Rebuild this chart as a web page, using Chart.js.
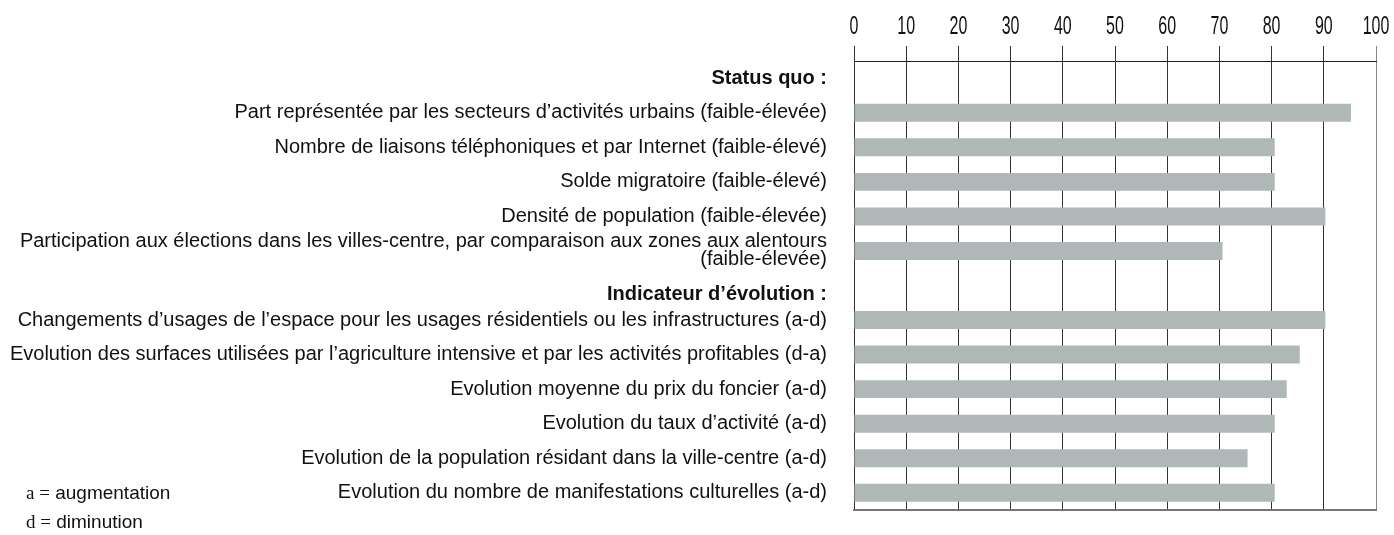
<!DOCTYPE html>
<html lang="fr">
<head>
<meta charset="utf-8">
<title>Indicateurs</title>
<script src="https://cdn.jsdelivr.net/npm/chart.js@4/dist/chart.umd.min.js"></script>
<style>
    html, body { margin: 0; padding: 0; background: #fff; }
    #wrap { position: relative; width: 1394px; height: 535px; }
    #notes { position: absolute; left: 26px; top: 478px; font: 19px "Liberation Sans", Arial, sans-serif; color: #111; line-height: 29px; }
    #notes span { font-family: "Liberation Serif", "Times New Roman", serif; }
</style>
</head>
<body>
<div id="wrap">
    <canvas id="chart" width="1394" height="535"></canvas>
    <div id="notes">
        <div><span>a =</span> augmentation</div>
        <div><span>d =</span> diminution</div>
    </div>
</div>
<script>
"use strict";

// rows of the chart, top to bottom (headers have no bar)
const categories = [
    "Status quo :",
    "Part représentée par les secteurs d’activités urbains (faible-élevée)",
    "Nombre de liaisons téléphoniques et par Internet (faible-élevé)",
    "Solde migratoire (faible-élevé)",
    "Densité de population (faible-élevée)",
    ["Participation aux élections dans les villes-centre, par comparaison aux zones aux alentours", "(faible-élevée)"],
    ["", "Indicateur d’évolution :"],
    "Changements d’usages de l’espace pour les usages résidentiels ou les infrastructures (a-d)",
    "Evolution des surfaces utilisées par l’agriculture intensive et par les activités profitables (d-a)",
    "Evolution moyenne du prix du foncier (a-d)",
    "Evolution du taux d’activité (a-d)",
    "Evolution de la population résidant dans la ville-centre (a-d)",
    "Evolution du nombre de manifestations culturelles (a-d)"
];
const headerRows = [0, 6];
const values = [null, 95.2, 80.6, 80.6, 90.3, 70.6, null, 90.3, 85.4, 82.9, 80.6, 75.4, 80.6];
const tickValues = [0, 10, 20, 30, 40, 50, 60, 70, 80, 90, 100];

const barColor = "#afb8b6";
const gridColor = "#333";

// narrow tick numbers on top axis
const narrowTicks = {
    id: "narrowTicks",
    afterDraw(chart) {
        const scale = chart.scales.x;
        const ctx = chart.ctx;
        ctx.save();
        ctx.fillStyle = "#111";
        ctx.font = '25px "Liberation Sans", Arial, sans-serif';
        ctx.textAlign = "center";
        ctx.textBaseline = "alphabetic";
        scale.ticks.forEach(function(t, i) {
            const px = scale.getPixelForTick(i);
            ctx.save();
            ctx.translate(px, 34);
            ctx.scale(0.64, 1);
            ctx.fillText(String(t.value), 0, 0);
            ctx.restore();
        });
        ctx.restore();
    }
};

new Chart(document.getElementById("chart"), {
    type: "bar",
    data: {
        labels: categories,
        datasets: [ {
            data: values,
            backgroundColor: barColor,
            borderWidth: 0,
            barPercentage: 0.52,
            categoryPercentage: 1
        } ]
    },
    options: {
        indexAxis: "y",
        responsive: false,
        animation: false,
        layout: {
            padding: { top: 0, right: 18, bottom: 25, left: 0 }
        },
        plugins: {
            legend: { display: false },
            tooltip: { enabled: false }
        },
        scales: {
            x: {
                position: "top",
                min: 0,
                max: 100,
                afterBuildTicks: function(scale) {
                    scale.ticks = tickValues.map(function(v) { return { value: v }; });
                },
                afterFit: function(scale) { scale.height = 61; },
                ticks: { display: false },
                grid: {
                    color: function(c) { return c.tick && c.tick.value === 100 ? "#888" : gridColor; },
                    lineWidth: 1,
                    drawTicks: true,
                    tickLength: 15
                },
                border: { display: true, color: "#222", width: 1 }
            },
            x2: {
                position: "bottom",
                axis: "x",
                min: 0,
                max: 100,
                afterFit: function(scale) { scale.height = 0; },
                ticks: { display: false },
                grid: { display: false, drawTicks: false },
                border: { display: true, color: "#777", width: 2 }
            },
            y: {
                afterFit: function(scale) {
                    scale.width = 854;
                    scale.paddingTop = 0;
                    scale.paddingBottom = 0;
                },
                grid: { display: false },
                border: { display: false },
                ticks: {
                    autoSkip: false,
                    padding: 19,
                    color: "#111",
                    font: function(c) {
                        const bold = headerRows.indexOf(c.index) >= 0;
                        return {
                            family: '"Liberation Sans", Arial, sans-serif',
                            size: 20,
                            weight: bold ? "bold" : "normal",
                            lineHeight: 0.9
                        };
                    }
                }
            }
        }
    },
    plugins: [ narrowTicks ]
});
</script>
</body>
</html>
